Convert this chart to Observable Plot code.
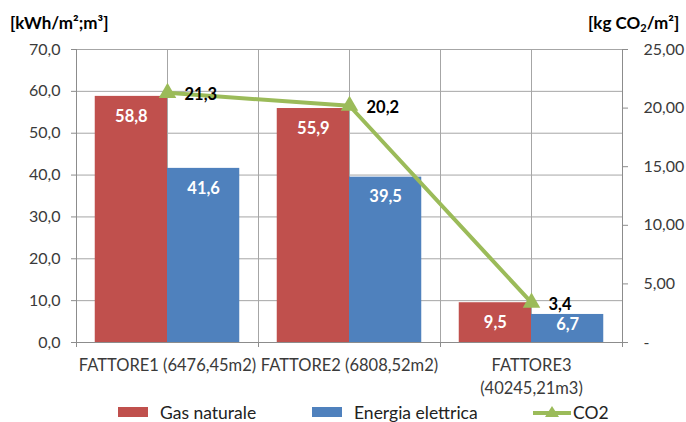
<!DOCTYPE html>
<html>
<head>
<meta charset="utf-8">
<script src="https://cdn.jsdelivr.net/npm/d3@7"></script>
<script src="https://cdn.jsdelivr.net/npm/@observablehq/plot@0.6"></script>
<style>
  body { margin: 0; background: #fff; font-family: Lato, "Open Sans", sans-serif; }
  #chart { position: relative; width: 686px; height: 422px; overflow: hidden; }
  #chart > svg { position: absolute; left: 0; top: 0; }
  .axis-title { position: absolute; top: 13px; font-weight: bold; font-size: 17px; color: #000; white-space: nowrap; line-height: 20px; }
  .axis-title sub { font-size: 11px; vertical-align: -3px; line-height: 0; }
  .legend { position: absolute; top: 402px; left: 0; width: 686px; height: 20px; font-size: 17.5px; color: #222; }
  .legend .item { position: absolute; top: 0; display: flex; align-items: center; height: 20px; white-space: nowrap; }
  .legend .sw { display: inline-block; width: 30px; height: 10px; margin-right: 12px; }
</style>
</head>
<body>
<div id="chart"></div>
<script>
// Categories (with their reference surface / volume) and the three series
const categories = ["FATTORE1 (6476,45m2)", "FATTORE2 (6808,52m2)", "FATTORE3\n(40245,21m3)"];
const gasNaturale = [58.8, 55.9, 9.5];        // kWh/m² ; m³
const energiaElettrica = [41.6, 39.5, 6.7];   // kWh/m² ; m³
const co2 = [21.3, 20.2, 3.4];                // kg CO2/m²
const seriesNames = ["Gas naturale", "Energia elettrica", "CO2"];
const leftTicks = [0, 10, 20, 30, 40, 50, 60, 70];
const rightTicks = [0, 5, 10, 15, 20, 25];

const colors = {gas: "#C0504D", ele: "#4F81BD", co2: "#9BBB59"};
const gridColor = "#A6A6A6";
const axisColor = "#8C8C8C";
const textColor = "#3A3A3A";

// Left axis spans 0–70, right axis spans 0–25: CO2 is drawn on the left scale
const yMax = 70, y2Max = 25, k = yMax / y2Max;
const barWidth = 0.397; // width of a bar as a fraction of one category slot

const W = 686, H = 400, mT = 49, mB = 58, mL = 76, mR = 64;
const pxPerUnit = (H - mT - mB) / yMax;
// value labels sit near the top of a bar, but stay inside short bars
const labelY = v => v - Math.min(20, v * pxPerUnit - 18) / pxPerUnit;

const it = d3.formatLocale({decimal: ",", thousands: ".", grouping: [3], currency: ["€", ""]});
const f1 = it.format(".1f");
const f2 = it.format(".2f");

const idx = categories.map((_, i) => i);
const slotEdges = d3.range(0, categories.length + 0.001, 0.5);
const edges = d3.range(0, categories.length + 1);
const centers = idx.map(i => i + 0.5);

const plot = Plot.plot({
  width: W,
  height: H,
  marginLeft: mL,
  marginRight: mR,
  marginTop: mT,
  marginBottom: mB,
  style: {fontFamily: "Lato, 'Open Sans', sans-serif", fontSize: "16px", color: textColor, background: "transparent"},
  x: {type: "linear", domain: [0, categories.length], axis: null},
  y: {domain: [0, yMax], axis: null},
  marks: [
    // grid
    Plot.ruleY(leftTicks, {stroke: gridColor, strokeWidth: 1}),
    Plot.ruleX(slotEdges, {stroke: gridColor, strokeWidth: 1}),
    // axis lines
    Plot.ruleY([0], {stroke: axisColor}),
    Plot.ruleX([0, categories.length], {stroke: axisColor}),
    // bars
    Plot.rectY(idx, {x1: i => i + 0.5 - barWidth, x2: i => i + 0.5, y1: 0, y2: i => gasNaturale[i], fill: colors.gas}),
    Plot.rectY(idx, {x1: i => i + 0.5, x2: i => i + 0.5 + barWidth, y1: 0, y2: i => energiaElettrica[i], fill: colors.ele}),
    // bar value labels
    Plot.text(idx, {x: i => i + 0.5 - barWidth / 2, y: i => labelY(gasNaturale[i]), text: i => f1(gasNaturale[i]), fill: "#fff", fontWeight: "bold", fontSize: 16.5}),
    Plot.text(idx, {x: i => i + 0.5 + barWidth / 2, y: i => labelY(energiaElettrica[i]), text: i => f1(energiaElettrica[i]), fill: "#fff", fontWeight: "bold", fontSize: 16.5}),
    // CO2 line on the secondary scale
    Plot.line(idx, {x: i => i + 0.5, y: i => co2[i] * k, stroke: colors.co2, strokeWidth: 4}),
    Plot.dot(idx, {x: i => i + 0.5, y: i => co2[i] * k, symbol: "triangle", r: 6.5, fill: colors.co2, stroke: "none"}),
    Plot.text(idx, {x: i => i + 0.5, y: i => co2[i] * k, text: i => f1(co2[i]), dx: 17, dy: 2, textAnchor: "start", fill: "#000", fontWeight: "bold", fontSize: 16.5}),
    // left axis
    Plot.axisY(leftTicks, {anchor: "left", tickSize: 5, tickPadding: 11, tickFormat: f1, stroke: axisColor, fill: textColor, label: null}),
    // right axis
    Plot.axisY(rightTicks.map(v => v * k), {anchor: "right", tickSize: 5, tickPadding: 16, tickFormat: v => v === 0 ? "-" : f2(v / k), stroke: axisColor, fill: textColor, label: null}),
    // bottom axis: tick marks at category edges, names centred in each slot
    Plot.axisX(edges, {anchor: "bottom", tickSize: 5, tickFormat: () => "", stroke: axisColor, label: null}),
    Plot.axisX(centers, {anchor: "bottom", tickSize: 0, tickPadding: 12, tickFormat: v => categories[Math.floor(v)], lineHeight: 1.4, fontSize: 16.5, fill: textColor, label: null})
  ]
});

const chart = document.getElementById("chart");
chart.appendChild(plot);

// axis titles
const tl = document.createElement("div");
tl.className = "axis-title";
tl.style.left = "10px";
tl.innerHTML = "[kWh/m²;m³]";
chart.appendChild(tl);
const tr = document.createElement("div");
tr.className = "axis-title";
tr.style.left = "588px";
tr.innerHTML = "[kg CO<sub>2</sub>/m²]";
chart.appendChild(tr);

// legend
const legend = document.createElement("div");
legend.className = "legend";
const legendPos = [118, 312, 533];
const legendColors = [colors.gas, colors.ele, colors.co2];
seriesNames.forEach((name, i) => {
  const item = document.createElement("div");
  item.className = "item";
  item.style.left = legendPos[i] + "px";
  if (i < 2) {
    const sw = document.createElement("span");
    sw.className = "sw";
    sw.style.background = legendColors[i];
    item.appendChild(sw);
  } else {
    const ns = "http://www.w3.org/2000/svg";
    const s = document.createElementNS(ns, "svg");
    s.setAttribute("width", "38");
    s.setAttribute("height", "18");
    s.innerHTML = `<line x1="0" x2="38" y1="10" y2="10" stroke="${colors.co2}" stroke-width="4"/>` +
      `<path d="M19,3 L26,14 L12,14 Z" fill="${colors.co2}"/>`;
    item.appendChild(s);
  }
  const t = document.createElement("span");
  t.textContent = name;
  if (i === 2) t.style.marginLeft = "2px";
  item.appendChild(t);
  legend.appendChild(item);
});
chart.appendChild(legend);
</script>
</body>
</html>
